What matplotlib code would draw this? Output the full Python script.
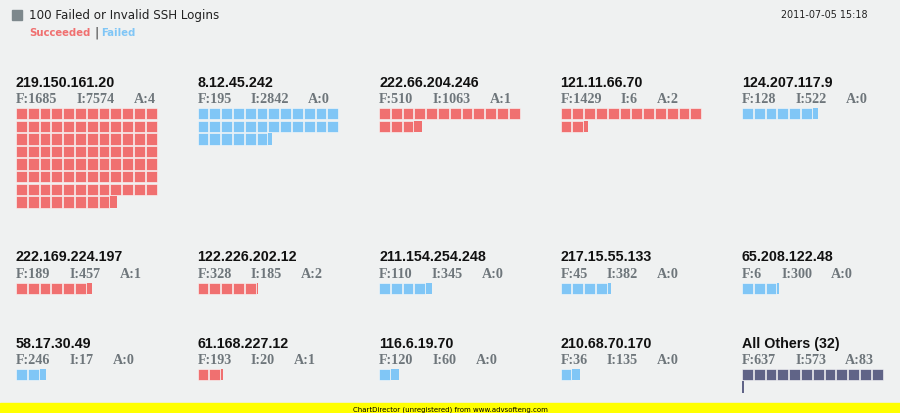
import matplotlib
matplotlib.use("Agg")
import matplotlib.pyplot as plt
from matplotlib.patches import Rectangle

# ---- data ----
ips = ["219.150.161.20", "8.12.45.242", "222.66.204.246", "121.11.66.70", "124.207.117.9",
       "222.169.224.197", "122.226.202.12", "211.154.254.248", "217.15.55.133", "65.208.122.48",
       "58.17.30.49", "61.168.227.12", "116.6.19.70", "210.68.70.170", "All Others (32)"]
failed = [1685, 195, 510, 1429, 128, 189, 328, 110, 45, 6, 246, 193, 120, 36, 637]
invalid = [7574, 2842, 1063, 6, 522, 457, 185, 345, 382, 300, 17, 20, 60, 135, 573]
accepted = [4, 0, 1, 2, 0, 1, 2, 0, 0, 0, 0, 1, 0, 0, 83]
is_others = [False] * 14 + [True]
unit = 100  # logins per square

title = "100 Failed or Invalid SSH Logins"
timestamp = "2011-07-05 15:18"
footer = "ChartDirector (unregistered) from www.advsofteng.com"

# ---- style ----
BG = "#eff1f1"
RED = "#f07070"
BLUE = "#80c6f6"
SLATE = "#606487"
STAT = "#6e767b"

fig = plt.figure(figsize=(9, 4.14), dpi=100)
fig.patch.set_facecolor(BG)
ax = fig.add_axes([0, 0, 1, 1])
ax.set_xlim(0, 900)
ax.set_ylim(414, 0)
ax.axis("off")

# header
ax.add_patch(Rectangle((12, 11), 10, 10, color="#7d888c"))
ax.text(29, 16, title, fontsize=8.6, family="DejaVu Sans", va="center", ha="left", color="#222222")
t = ax.text(29, 33, "Succeeded", fontsize=7.3, family="DejaVu Sans", weight="bold", color=RED, va="center")
t = ax.annotate("|", xy=(1, 0.5), xycoords=t, xytext=(4, 0), textcoords="offset pixels",
                fontsize=9, color="#333333", va="center", ha="left")
ax.annotate("Failed", xy=(1, 0.5), xycoords=t, xytext=(3, 0), textcoords="offset pixels",
            fontsize=7.3, family="DejaVu Sans", weight="bold", color=BLUE, va="center", ha="left")
ax.text(868, 15, timestamp, fontsize=6.9, family="DejaVu Sans", va="center", ha="right", color="#222222")

# footer bar
ax.add_patch(Rectangle((0, 404), 900, 10, color="#ffff00"))
ax.text(450, 409.5, footer, fontsize=5, family="DejaVu Sans Condensed", va="center", ha="center", color="black")

# ---- panels ----
ncols = 5
col_x0 = 16
col_step = 181.5
per_row = 12
px = 11.8
py = 12.6
sw = 10.8
sh = 11.3

row_title_y = 83
for r in range(3):
    max_bottom = row_title_y + 26
    for c in range(ncols):
        i = r * ncols + c
        x0 = col_x0 + c * col_step
        ax.text(x0, row_title_y, ips[i], fontsize=10.3, family="Liberation Sans", weight="bold",
                va="center", ha="left", color="#111111")
        sy = row_title_y + 17
        t1 = ax.text(x0, sy, f"F:{failed[i]}", fontsize=10.2, family="Liberation Serif", weight="bold",
                     va="center", ha="left", color=STAT)
        t2 = ax.annotate(f"I:{invalid[i]}", xy=(1, 0.5), xycoords=t1, xytext=(19, 0),
                         textcoords="offset pixels", fontsize=10.2, family="Liberation Serif",
                         weight="bold", va="center", ha="left", color=STAT)
        ax.annotate(f"A:{accepted[i]}", xy=(1, 0.5), xycoords=t2, xytext=(19, 0),
                    textcoords="offset pixels", fontsize=10.2, family="Liberation Serif",
                    weight="bold", va="center", ha="left", color=STAT)
        if is_others[i]:
            col = SLATE
        else:
            col = RED if accepted[i] > 0 else BLUE
        n = (failed[i] + invalid[i]) / unit
        top = row_title_y + 26
        k = 0
        while n > 1e-9:
            frac = min(1.0, n)
            rr, cc = divmod(k, per_row)
            if frac < 1:
                w = max(sw * frac, 1.5)
                ax.add_patch(Rectangle((x0 + cc * px, top + rr * py), w, sh, facecolor=col,
                                       edgecolor="none", linewidth=0))
            else:
                ax.add_patch(Rectangle((x0 + cc * px, top + rr * py), sw, sh, facecolor=col,
                                       edgecolor="#fafafa", linewidth=0.4))
            max_bottom = max(max_bottom, top + rr * py + sh)
            n -= 1
            k += 1
    row_title_y = max_bottom + 49

fig.savefig("out.png", dpi=100, facecolor=BG)
